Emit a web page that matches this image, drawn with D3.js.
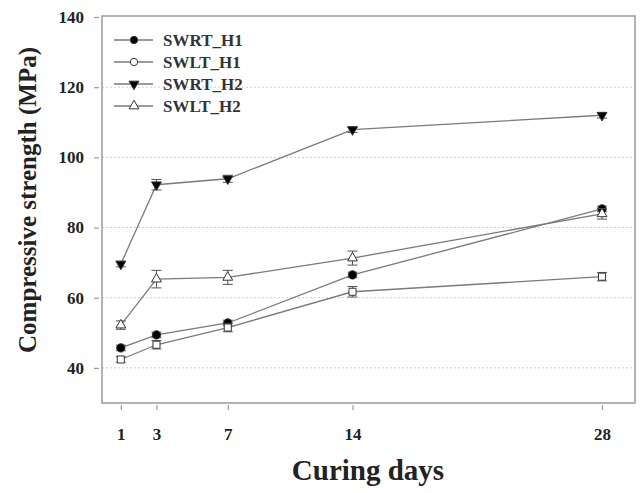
<!DOCTYPE html>
<html><head><meta charset="utf-8">
<script src="https://cdn.jsdelivr.net/npm/d3@7"></script>
<style>body{margin:0;background:#fff}svg{display:block}</style>
</head><body><svg id="c" width="642" height="493"></svg>
<script>
const days = [1, 3, 7, 14, 28];
const seriesNames = ["SWRT_H1", "SWLT_H1", "SWRT_H2", "SWLT_H2"];
const swrtH1 = [45.7, 49.4, 52.8, 66.5, 85.3];
const swltH1 = [42.4, 46.6, 51.5, 61.7, 66.0];
const swrtH2 = [69.6, 92.2, 93.9, 107.9, 112.0];
const swltH2 = [52.2, 65.3, 65.8, 71.3, 83.9];
const errRH1 = [0.8, 0.8, 0.8, 0.8, 0.8];
const errLH1 = [0.8, 1.2, 1.2, 1.5, 1.2];
const errRH2 = [0.8, 1.5, 1.0, 0.8, 0.8];
const errLH2 = [1.2, 2.5, 2.0, 2.0, 1.5];
const yTicks = [40, 60, 80, 100, 120, 140];
const gridVals = [40, 60, 80, 100, 120];

const svg = d3.select("#c");
const L = 102, R = 635, T = 16, B = 403;
const x = d3.scaleLinear().domain([0, 29.85]).range([L + 1, R]);
const y = d3.scaleLinear().domain([30, 140]).range([B, T + 1]);

svg.append("g").selectAll("line").data(gridVals).join("line")
  .attr("x1", L).attr("x2", R).attr("y1", d => y(d)).attr("y2", d => y(d))
  .attr("stroke", "#cfcfcf").attr("stroke-width", 1).attr("stroke-dasharray", "2,2");

svg.append("path").attr("d", `M${L},${T}H${R}V${B}H${L}Z`).attr("fill", "none")
  .attr("stroke", "#9a9a9a").attr("stroke-width", 1.5);

const yAx = svg.append("g").attr("transform", `translate(${L - 3},0)`)
  .call(d3.axisLeft(y).tickValues(yTicks).tickSize(5).tickPadding(10));
const xAx = svg.append("g").attr("transform", `translate(0,${B + 2})`)
  .call(d3.axisBottom(x).tickValues(days).tickSize(5).tickPadding(18));
[yAx, xAx].forEach(a => {
  a.select(".domain").remove();
  a.selectAll(".tick line").attr("stroke", "#9a9a9a").attr("stroke-width", 1.2);
  a.selectAll("text").attr("font-family", "Liberation Serif").attr("font-weight", "bold")
    .attr("font-size", 17).attr("fill", "#222");
});

svg.append("text").attr("transform", "translate(36,200) rotate(-90)")
  .attr("text-anchor", "middle").attr("font-family", "Liberation Serif").attr("font-weight", "bold")
  .attr("font-size", 25).attr("fill", "#222").text("Compressive strength (MPa)");
svg.append("text").attr("x", 368).attr("y", 480)
  .attr("text-anchor", "middle").attr("font-family", "Liberation Serif").attr("font-weight", "bold")
  .attr("font-size", 29).attr("fill", "#222").text("Curing days");

const series = [
  {name: seriesNames[0], vals: swrtH1, err: errRH1, sym: d3.symbolCircle, fill: "#000", size: 55},
  {name: seriesNames[1], vals: swltH1, err: errLH1, sym: d3.symbolSquare, fill: "#fff", size: 50},
  {name: seriesNames[2], vals: swrtH2, err: errRH2, sym: "down", fill: "#000", size: 42},
  {name: seriesNames[3], vals: swltH2, err: errLH2, sym: d3.symbolTriangle, fill: "#fff", size: 42}
];
const legendSym = [d3.symbolCircle, d3.symbolCircle, "down", d3.symbolTriangle];
function symPath(s, size) {
  if (s === "down") return d3.symbol(d3.symbolTriangle, size)();
  return d3.symbol(s, size)();
}
const line = d3.line().x(d => x(d[0])).y(d => y(d[1]));
series.forEach(s => {
  const pts = days.map((d, i) => [d, s.vals[i], s.err[i]]);
  const g = svg.append("g");
  g.append("path").attr("d", line(pts)).attr("fill", "none").attr("stroke", "#7a7a7a").attr("stroke-width", 1.3);
  const eb = g.selectAll(".eb").data(pts).join("g");
  eb.append("line").attr("x1", d => x(d[0])).attr("x2", d => x(d[0]))
    .attr("y1", d => y(d[1] - d[2])).attr("y2", d => y(d[1] + d[2])).attr("stroke", "#555");
  eb.append("line").attr("x1", d => x(d[0]) - 5).attr("x2", d => x(d[0]) + 5)
    .attr("y1", d => y(d[1] + d[2])).attr("y2", d => y(d[1] + d[2])).attr("stroke", "#555");
  eb.append("line").attr("x1", d => x(d[0]) - 5).attr("x2", d => x(d[0]) + 5)
    .attr("y1", d => y(d[1] - d[2])).attr("y2", d => y(d[1] - d[2])).attr("stroke", "#555");
  g.selectAll(".m").data(pts).join("path")
    .attr("d", symPath(s.sym, s.size))
    .attr("transform", d => `translate(${x(d[0])},${y(d[1])})${s.sym === "down" ? " rotate(180)" : ""}`)
    .attr("fill", s.fill).attr("stroke", "#333").attr("stroke-width", 1);
});

const lg = svg.append("g");
series.forEach((s, i) => {
  const yy = 40 + i * 22;
  lg.append("line").attr("x1", 114).attr("x2", 153).attr("y1", yy).attr("y2", yy)
    .attr("stroke", "#7a7a7a").attr("stroke-width", 1.3);
  lg.append("path").attr("d", symPath(legendSym[i], 42))
    .attr("transform", `translate(134,${yy})${legendSym[i] === "down" ? " rotate(180)" : ""}`)
    .attr("fill", s.fill).attr("stroke", "#333");
  lg.append("text").attr("x", 163).attr("y", yy + 6).attr("font-family", "Liberation Serif")
    .attr("font-weight", "bold").attr("font-size", 17).attr("fill", "#333").text(s.name);
});
</script></body></html>
